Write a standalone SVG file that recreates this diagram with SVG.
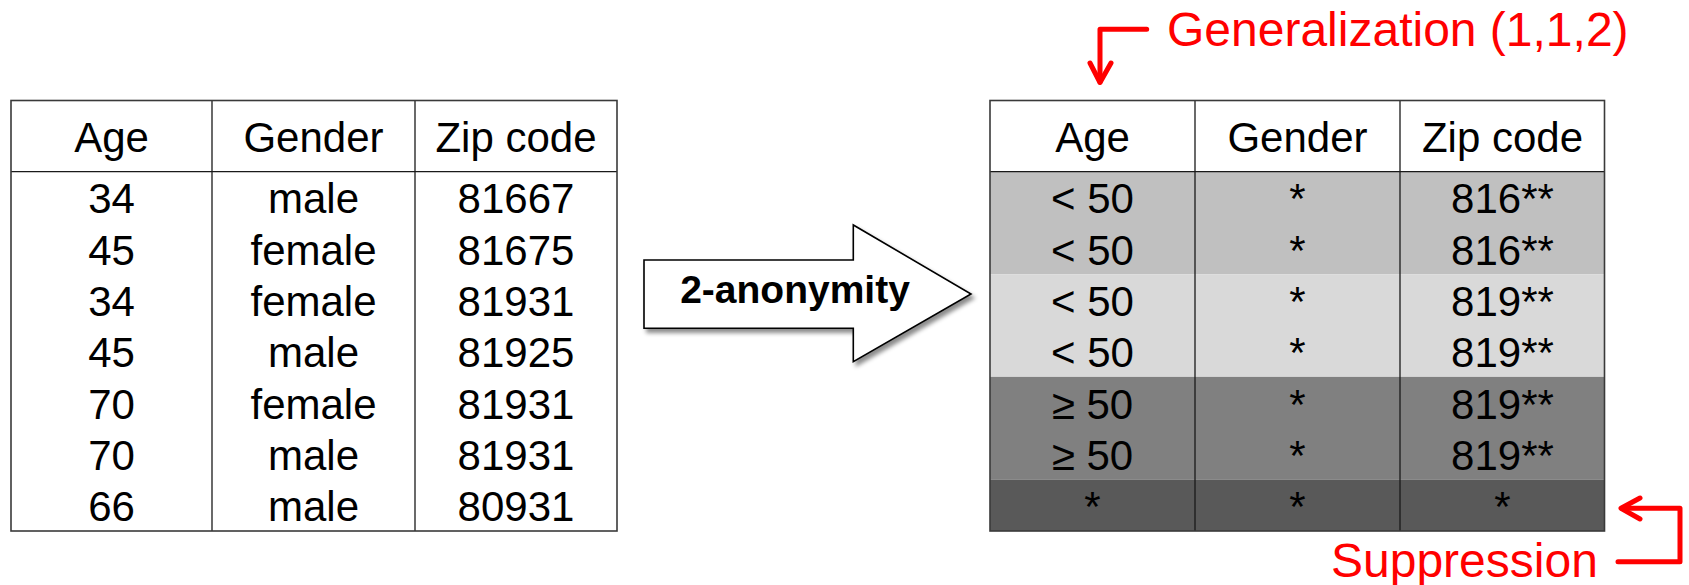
<svg xmlns="http://www.w3.org/2000/svg" width="1689" height="585" viewBox="0 0 1689 585">
<defs>
<style>
.t{font-family:"Liberation Sans",Arial,sans-serif;font-size:42px;fill:#000;text-anchor:middle}
.red{font-family:"Liberation Sans",Arial,sans-serif;font-size:48px;fill:#ff0000}
.border{fill:none;stroke:#3a3a3a;stroke-width:1.6}
.inner{stroke:#1a1a1a;stroke-width:1.3}
.rl{fill:none;stroke:#ff0000;stroke-width:5;stroke-linecap:round;stroke-linejoin:round}
</style>
<filter id="sh" x="-10%" y="-10%" width="130%" height="140%">
<feDropShadow dx="3" dy="4" stdDeviation="2" flood-color="#000" flood-opacity="0.45"/>
</filter>
</defs>

<g id="original-table">
<rect x="11" y="100.5" width="606" height="430.5" fill="#fff"/>
<line class="inner" x1="11" y1="171.7" x2="617" y2="171.7"/>
<line class="inner" x1="212" y1="100.5" x2="212" y2="531"/>
<line class="inner" x1="415" y1="100.5" x2="415" y2="531"/>
<rect class="border" x="11" y="100.5" width="606" height="430.5"/>
<text class="t" x="111.5" y="152">Age</text>
<text class="t" x="313.5" y="152">Gender</text>
<text class="t" x="516" y="152">Zip code</text>
<g>
<text class="t" x="111.5" y="213.3">34</text><text class="t" x="313.5" y="213.3">male</text><text class="t" x="516" y="213.3">81667</text>
<text class="t" x="111.5" y="264.6">45</text><text class="t" x="313.5" y="264.6">female</text><text class="t" x="516" y="264.6">81675</text>
<text class="t" x="111.5" y="315.9">34</text><text class="t" x="313.5" y="315.9">female</text><text class="t" x="516" y="315.9">81931</text>
<text class="t" x="111.5" y="367.2">45</text><text class="t" x="313.5" y="367.2">male</text><text class="t" x="516" y="367.2">81925</text>
<text class="t" x="111.5" y="418.5">70</text><text class="t" x="313.5" y="418.5">female</text><text class="t" x="516" y="418.5">81931</text>
<text class="t" x="111.5" y="469.8">70</text><text class="t" x="313.5" y="469.8">male</text><text class="t" x="516" y="469.8">81931</text>
<text class="t" x="111.5" y="521.1">66</text><text class="t" x="313.5" y="521.1">male</text><text class="t" x="516" y="521.1">80931</text>
</g>
</g>

<g id="anonymity-arrow">
<polygon points="644,260 853.3,260 853.3,225 971,294 853.3,361.7 853.3,328.3 644,328.3" fill="#fff" stroke="#000" stroke-width="1.6" stroke-linejoin="miter" filter="url(#sh)"/>
<text x="795" y="303.3" font-family="'Liberation Sans',Arial,sans-serif" font-size="39" font-weight="bold" text-anchor="middle" fill="#000">2-anonymity</text>
</g>

<g id="anonymized-table">
<rect x="990" y="100.5" width="614.5" height="71.2" fill="#fff"/>
<rect x="990" y="171.7" width="614.5" height="102.6" fill="#c0c0c0"/>
<rect x="990" y="274.3" width="614.5" height="102.6" fill="#d9d9d9"/>
<rect x="990" y="376.9" width="614.5" height="102.6" fill="#808080"/>
<rect x="990" y="479.5" width="614.5" height="51.5" fill="#595959"/>
<line class="inner" x1="990" y1="171.7" x2="1604.5" y2="171.7"/>
<line class="inner" x1="1195" y1="100.5" x2="1195" y2="531"/>
<line class="inner" x1="1400" y1="100.5" x2="1400" y2="531"/>
<rect class="border" x="990" y="100.5" width="614.5" height="430.5"/>
<text class="t" x="1092.5" y="152">Age</text>
<text class="t" x="1297.5" y="152">Gender</text>
<text class="t" x="1502.5" y="152">Zip code</text>
<text class="t" x="1092.5" y="213.3">&lt; 50</text><text class="t" x="1297.5" y="213.3">*</text><text class="t" x="1502.5" y="213.3">816**</text>
<text class="t" x="1092.5" y="264.6">&lt; 50</text><text class="t" x="1297.5" y="264.6">*</text><text class="t" x="1502.5" y="264.6">816**</text>
<text class="t" x="1092.5" y="315.9">&lt; 50</text><text class="t" x="1297.5" y="315.9">*</text><text class="t" x="1502.5" y="315.9">819**</text>
<text class="t" x="1092.5" y="367.2">&lt; 50</text><text class="t" x="1297.5" y="367.2">*</text><text class="t" x="1502.5" y="367.2">819**</text>
<text class="t" x="1092.5" y="418.5">≥ 50</text><text class="t" x="1297.5" y="418.5">*</text><text class="t" x="1502.5" y="418.5">819**</text>
<text class="t" x="1092.5" y="469.8">≥ 50</text><text class="t" x="1297.5" y="469.8">*</text><text class="t" x="1502.5" y="469.8">819**</text>
<text class="t" x="1092.5" y="521.1">*</text><text class="t" x="1297.5" y="521.1">*</text><text class="t" x="1502.5" y="521.1">*</text>
</g>

<g id="generalization-label">
<text class="red" x="1167" y="46">Generalization (1,1,2)</text>
</g>
<g id="suppression-label">
<text class="red" x="1331" y="576.5">Suppression</text>
</g>

<g id="connectors">
<path class="rl" d="M1146.7,29.3 H1100 V82"/>
<polyline class="rl" points="1090,63 1100,82.5 1111,63"/>
<path class="rl" d="M1618,561.7 H1680 V508.3 H1622"/>
<polyline class="rl" points="1640,498 1621,508.3 1640,519"/>
</g>
</svg>
